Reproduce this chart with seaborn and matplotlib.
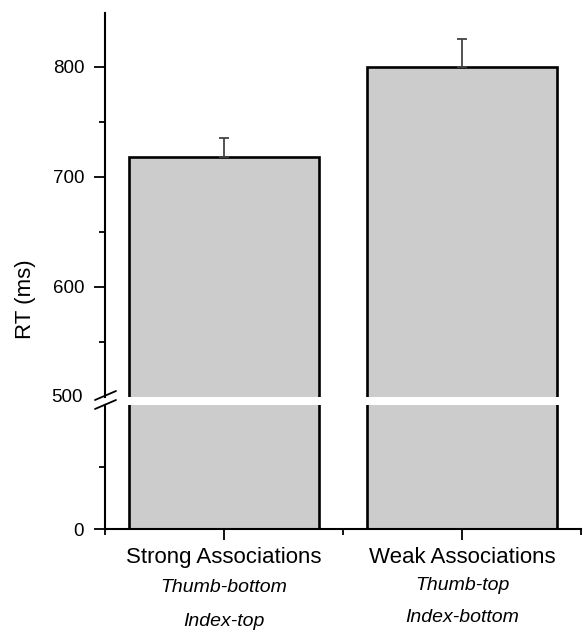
import numpy as np
import pandas as pd
import seaborn as sns
import matplotlib.pyplot as plt
from matplotlib.lines import Line2D
import matplotlib.transforms as mtransforms

# data
conditions = ["Strong Associations", "Weak Associations"]
mappings_top = ["Thumb-bottom", "Thumb-top"]
mappings_bottom = ["Index-top", "Index-bottom"]
rt_mean = [718, 800]
rt_sem = [17.5, 25.5]

df = pd.DataFrame({"condition": conditions, "rt": rt_mean, "sem": rt_sem})

sns.set_style("ticks")
plt.rcParams['font.family'] = ['Liberation Sans', 'DejaVu Sans']
plt.rcParams['text.color'] = 'black'
plt.rcParams['xtick.color'] = 'black'
plt.rcParams['ytick.color'] = 'black'
plt.rcParams['axes.edgecolor'] = 'black'

W, H = 583, 632
fig = plt.figure(figsize=(W / 100, H / 100), dpi=100)

def px(x0, y0, x1, y1):
    # pixel box -> figure fraction [left, bottom, width, height]
    return [x0 / W, 1 - y1 / H, (x1 - x0) / W, (y1 - y0) / H]

ax_top = fig.add_axes(px(105, 13, 581, 397))
ax_bot = fig.add_axes(px(105, 405, 581, 529))

for ax in (ax_top, ax_bot):
    sns.barplot(data=df, x="condition", y="rt", ax=ax, color="#cccccc",
                saturation=1, width=0.8, edgecolor="black", linewidth=1.9,
                errorbar=None)
    ax.errorbar(np.arange(len(df)), df["rt"], yerr=[np.zeros(len(df)), df["sem"]],
                fmt="none", ecolor="#444444", elinewidth=1.3, capsize=3.8,
                capthick=1.3, zorder=1)
    ax.set_xlim(-0.5, 1.5)
    ax.set_ylabel("")
    ax.set_xlabel("")
    for pos in ['right', 'top']:
        ax.spines[pos].set_visible(False)
    ax.spines['left'].set_linewidth(1.5)
    ax.spines['bottom'].set_linewidth(1.5)
    ax.tick_params(axis='both', which='major', direction='out', length=8,
                   width=1.3, labelsize=13.5, pad=7, colors='black')
    ax.tick_params(axis='both', which='minor', direction='out', length=4,
                   width=1.3, colors='black')

# upper segment
ax_top.set_ylim(500, 849)
ax_top.set_yticks([600, 700, 800])
ax_top.set_yticks([550, 650, 750], minor=True)
ax_top.spines['bottom'].set_visible(False)
ax_top.tick_params(axis='x', which='both', bottom=False, labelbottom=False)
# 500 label sits at the break
tr_y = mtransforms.blended_transform_factory(ax_top.transAxes, ax_top.transData)
ax_top.text(-0.047, 500, "500", transform=tr_y, ha='right', va='center', fontsize=13.5)

# lower segment
ax_bot.set_ylim(0, 500)
ax_bot.set_yticks([0])
ax_bot.set_yticks([250], minor=True)
ax_bot.set_xticks([-0.5, 0.5, 1.5], minor=True)
ax_bot.set_xticks([0, 1])
ax_bot.set_xticklabels(conditions, fontsize=16)
ax_bot.tick_params(axis='x', which='major', pad=5)

# italic condition mappings under the tick labels
tr = mtransforms.blended_transform_factory(ax_bot.transData, fig.transFigure)
ax_bot.text(0, 1 - 588 / H, mappings_top[0], transform=tr, ha='center', va='center',
            fontsize=14, style='italic')
ax_bot.text(0, 1 - 622 / H, mappings_bottom[0], transform=tr, ha='center', va='center',
            fontsize=14, style='italic')
ax_bot.text(1, 1 - 585 / H, mappings_top[1], transform=tr, ha='center', va='center',
            fontsize=14, style='italic')
ax_bot.text(1, 1 - 618 / H, mappings_bottom[1], transform=tr, ha='center', va='center',
            fontsize=14, style='italic')

# axis break marks
for y0 in (400, 409):
    fig.add_artist(Line2D([95 / W, 116 / W], [1 - y0 / H, 1 - (y0 - 9) / H],
                          color='black', lw=1.3))

fig.text(26 / W, 1 - 299 / H, "RT (ms)", rotation=90, ha='center', va='center', fontsize=16)

plt.savefig("out.png", dpi=100)
